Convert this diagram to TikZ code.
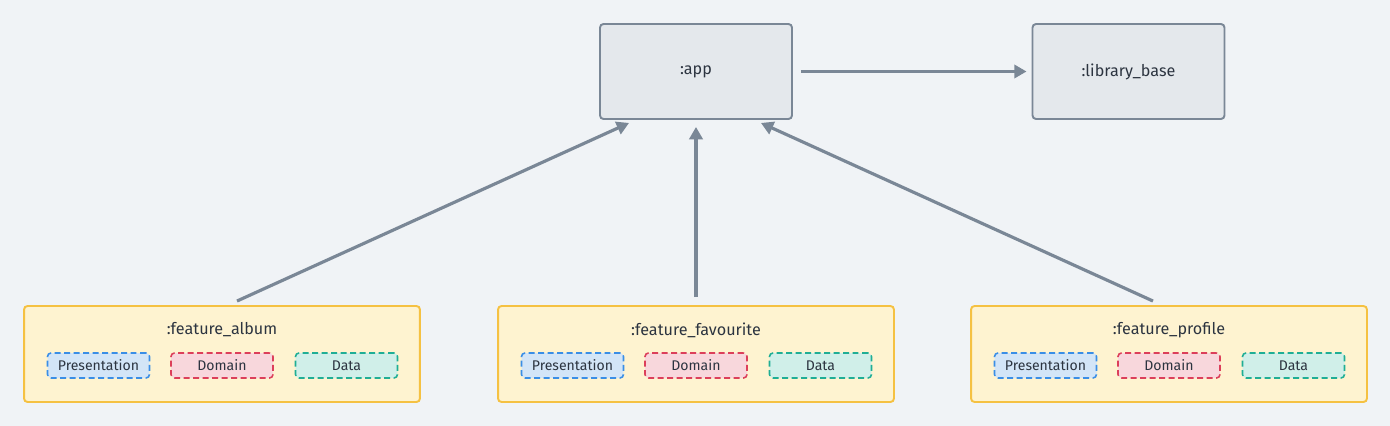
\documentclass[tikz,border=0pt]{standalone}
\usepackage{fontspec}
\setmainfont{Fira Sans}
\usetikzlibrary{arrows.meta}
\definecolor{bg}{HTML}{F0F3F6}
\definecolor{edgegray}{HTML}{7A8796}
\definecolor{modfill}{HTML}{E4E8EC}
\definecolor{featfill}{HTML}{FEF3D0}
\definecolor{featline}{HTML}{F5C142}
\definecolor{presfill}{HTML}{D3E5F7}
\definecolor{presline}{HTML}{3A8EE6}
\definecolor{domfill}{HTML}{F8D7DC}
\definecolor{domline}{HTML}{DC3F5A}
\definecolor{datafill}{HTML}{D0EFE9}
\definecolor{dataline}{HTML}{1FAE95}
\definecolor{txt}{HTML}{2C3440}
\tikzset{
  module/.style={draw=edgegray, fill=modfill, line width=1.1pt, rounded corners=2pt,
    minimum width=3.84cm, minimum height=1.9cm, text=txt, font=\fontsize{9.2}{11}\selectfont},
  feature/.style={draw=featline, fill=featfill, line width=1.1pt, rounded corners=2pt,
    minimum width=7.92cm, minimum height=1.92cm},
  layer/.style={dashed, dash pattern=on 3.4pt off 2pt, line width=0.9pt, rounded corners=2pt,
    minimum width=2.04cm, minimum height=0.5cm, inner sep=0pt, text=txt, font=\fontsize{8}{9}\selectfont},
  arr/.style={-{Triangle[length=7pt,width=7.5pt]}, draw=edgegray, line width=1.8pt}
}
\begin{document}
\begin{tikzpicture}[x=0.02cm, y=-0.02cm]
        \useasboundingbox[fill=bg] (0,0) rectangle (1390,426);
        % Modules
        \node[module] (app) at (696, 71.5) {:app};
        \node[module] (base) at (1128.5, 71.5) {:library\_base};
        % Features
        \foreach \name/\x/\title in {album/222/:feature\_album, favourite/696/:feature\_favourite, profile/1169/:feature\_profile} {
            \node[feature] (\name) at (\x, 354) {};
            \node[text=txt, font=\fontsize{9.2}{11}\selectfont] (\name-title) at (\x, 330) {\title};
            \node[layer, draw=presline, fill=presfill] (\name-pres) at (\x-123.5, 365.5) {Presentation};
            \node[layer, draw=domline, fill=domfill] (\name-dom) at (\x, 365.5) {Domain};
            \node[layer, draw=dataline, fill=datafill] (\name-data) at (\x+124.5, 365.5) {Data};
        }
        % Arrows
        \draw[arr] ([xshift=0.16cm]app.east) -- ([xshift=-0.1cm]base.west);
        \draw[arr] ([shift={(0.3cm,0.08cm)}]album.north) -- ([shift={(0.6cm,-0.06cm)}]app.south west);
        \draw[arr] ([yshift=0.16cm]favourite.north) -- ([yshift=-0.14cm]app.south);
        \draw[arr] ([shift={(-0.32cm,0.08cm)}]profile.north) -- ([shift={(-0.64cm,-0.06cm)}]app.south east);
    \end{tikzpicture}
\end{document}
